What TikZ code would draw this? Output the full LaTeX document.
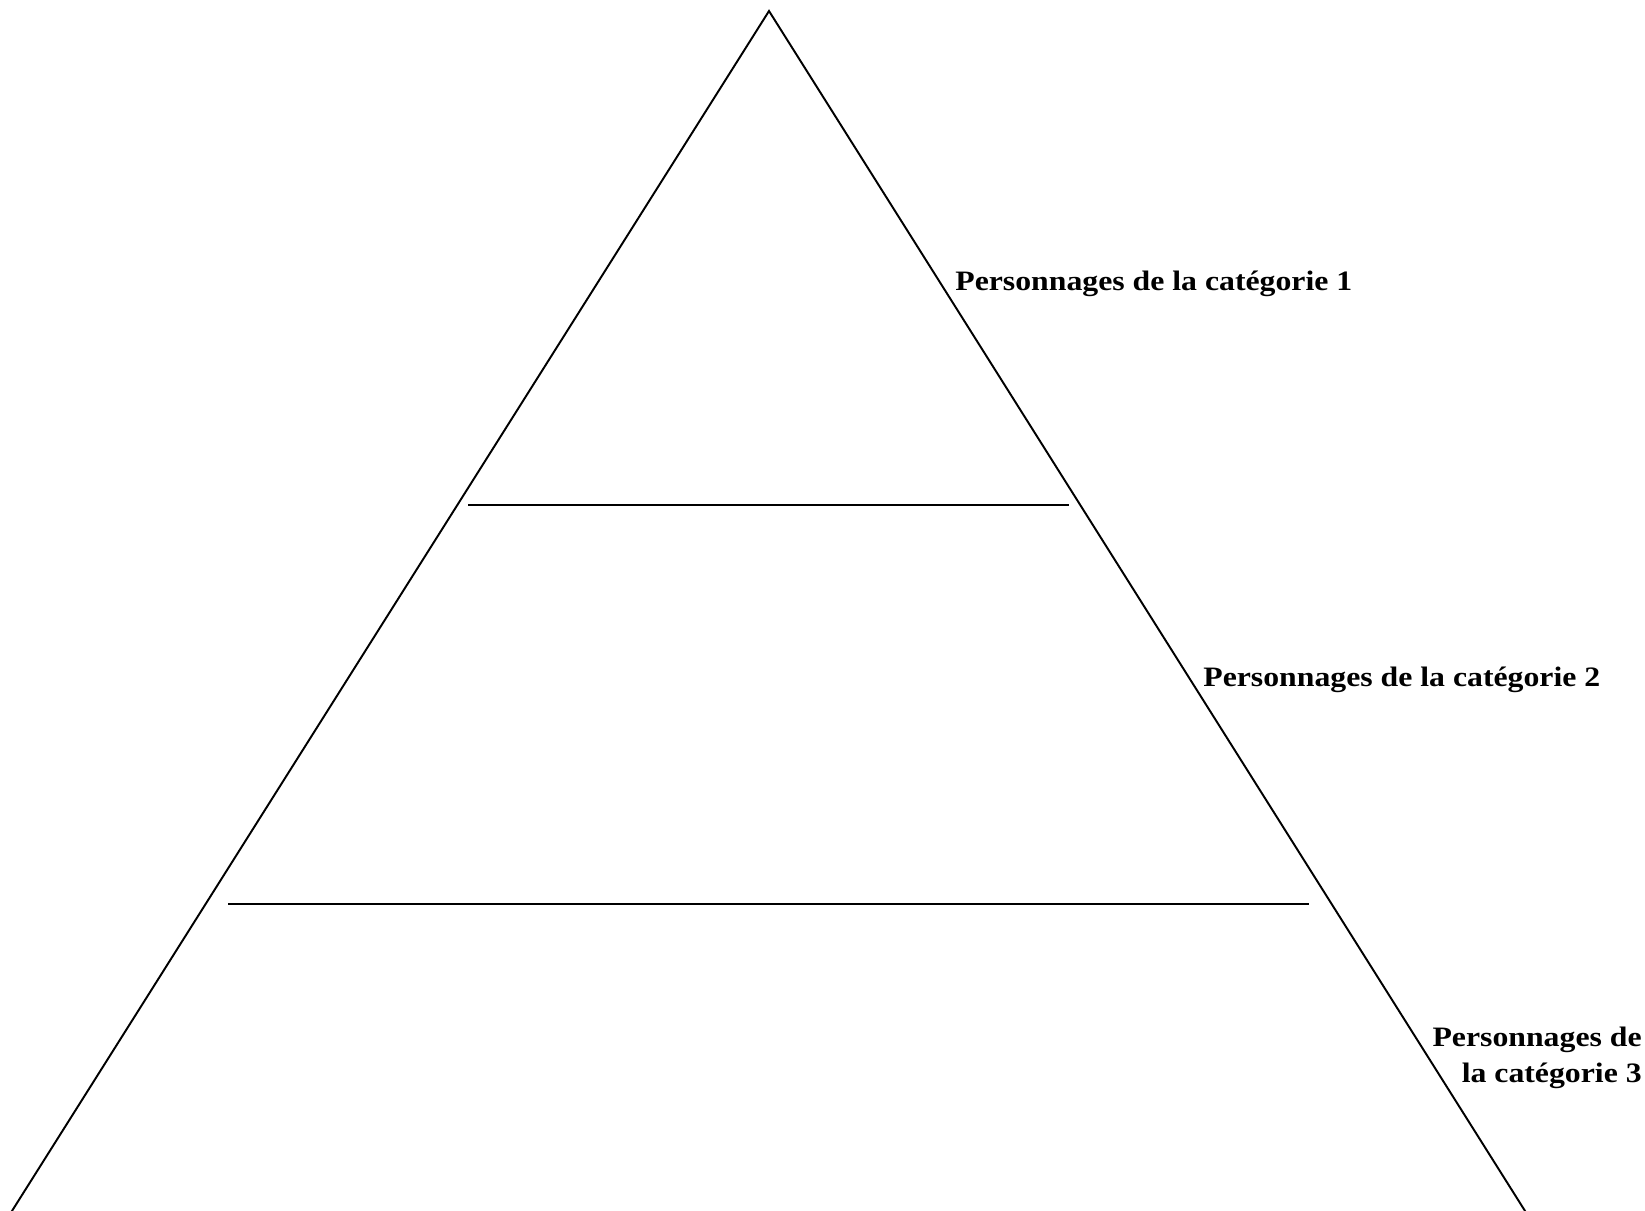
\documentclass[tikz,border=0pt]{standalone}
\usepackage{fontspec}
\setmainfont{Liberation Serif}
\newfontfamily\lblfont[FakeStretch=1.13]{Liberation Serif}
\usetikzlibrary{positioning}

\begin{document}
\begin{tikzpicture}[x=0.02cm, y=-0.02cm,
      edge/.style={line width=1.1pt, line join=miter},
      lbl/.style={inner sep=0pt, font=\lblfont\fontsize{16pt}{20.4pt}\selectfont\bfseries}]
    \useasboundingbox (0,0) rectangle (1645,1210);

    % pyramid
    \coordinate (top) at (769,11);
    \coordinate (bl) at (11,1212.5);
    \coordinate (br) at (1526,1212.5);
    \draw[edge] (bl) -- (top) -- (br) -- cycle;

    % levels
    \coordinate (l1w) at (468,505);
    \coordinate (l1e) at (1069,505);
    \coordinate (l2w) at (228,904);
    \coordinate (l2e) at (1309,904);
    \draw[edge] (l1w) -- (l1e);
    \draw[edge] (l2w) -- (l2e);

    \node[lbl, anchor=base west] (cat1) at (955,290) {Personnages de la catégorie 1};
    \node[lbl, anchor=base west] (cat2) at (1203,686) {Personnages de la catégorie 2};
    \node[lbl, anchor=north east, align=right] (cat3) at (1642,1027)
      {Personnages de\\la catégorie 3};
\end{tikzpicture}
\end{document}
